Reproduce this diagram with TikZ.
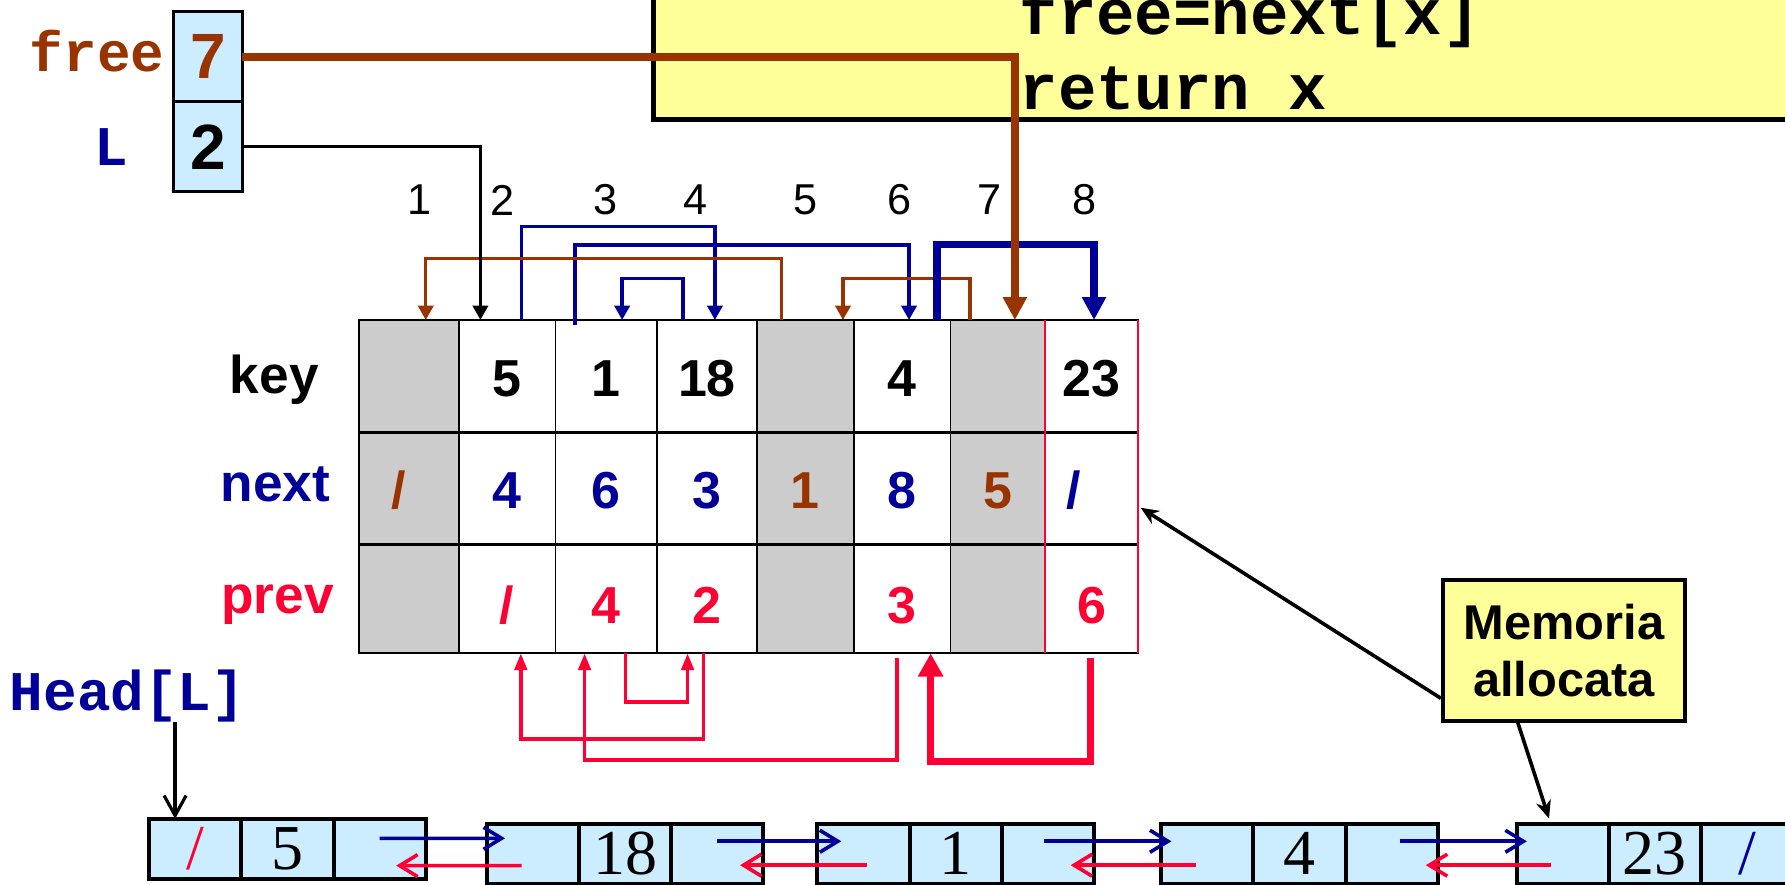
\documentclass[tikz,border=0pt]{standalone}
\usepackage{fontspec}
\setmainfont{Liberation Sans}
\setmonofont{Liberation Mono}
\newfontfamily\listfont{Liberation Serif}
\usetikzlibrary{arrows.meta,positioning}
\definecolor{freebrown}{HTML}{993300}
\definecolor{nextblue}{HTML}{000099}
\definecolor{prevred}{HTML}{FF0033}
\definecolor{memblue}{HTML}{CCECFF}
\definecolor{noteyellow}{HTML}{FFFF99}
\definecolor{unusedgrey}{HTML}{CCCCCC}

\begin{document}
\begin{tikzpicture}[
  cell/.style={draw, line width=0.4pt, fill=white, inner sep=0pt, outer sep=0pt,
    font=\bfseries\fontsize{13}{15}\selectfont, text height=10.1pt, text depth=0pt},
  keyrow/.style={cell, minimum height=0.987cm},
  nextrow/.style={cell, minimum height=0.984cm},
  prevrow/.style={cell, minimum height=0.957cm, text height=12.2pt},
  unused/.style={fill=unusedgrey},
  rowlbl/.style={anchor=base, inner sep=0pt, font=\bfseries\fontsize{13.3}{15}\selectfont},
  idx/.style={inner sep=0pt, font=\fontsize{10.8}{12}\selectfont},
  ttlbl/.style={inner sep=0pt, font=\ttfamily\bfseries\fontsize{14}{16}\selectfont},
  code/.style={anchor=base west, inner sep=0pt, font=\ttfamily\bfseries\fontsize{16}{18}\selectfont},
  membox/.style={draw, line width=0.7pt, fill=memblue, minimum width=0.607cm, minimum height=0.791cm,
    inner sep=0pt, outer sep=0pt, font=\bfseries\fontsize{16}{18}\selectfont},
  lcell/.style={draw, line width=1pt, fill=memblue, minimum width=0.81cm, minimum height=0.53cm,
    inner sep=0pt, outer sep=0pt, font=\listfont\fontsize{16}{18}\selectfont},
  note/.style={draw, line width=0.9pt, fill=noteyellow, minimum width=2.13cm, minimum height=1.238cm,
    align=center, font=\bfseries\fontsize{12.2}{14.2}\selectfont},
  nextptr/.style={draw=nextblue, line width=0.85pt, -{Triangle[width=3.8pt,length=3.6pt]}},
  nextbig/.style={draw=nextblue, line width=1.8pt, -{Triangle[width=5.7pt,length=5.7pt]}},
  freeptr/.style={draw=freebrown, line width=0.85pt, -{Triangle[width=3.8pt,length=3.6pt]}},
  freebig/.style={draw=freebrown, line width=2pt, -{Triangle[width=5.7pt,length=5.7pt]}},
  prevptr/.style={draw=prevred, line width=0.9pt, -{Triangle[width=3.1pt,length=4.2pt]}},
  prevbig/.style={draw=prevred, line width=1.8pt, -{Triangle[width=6pt,length=5.8pt]}},
  headptr/.style={draw, line width=0.8pt, -{Triangle[width=3.8pt,length=3.6pt]}},
  nextlink/.style={draw=nextblue, line width=0.9pt, -{Straight Barb[length=4.5pt,width=5.5pt]}},
  prevlink/.style={draw=prevred, line width=0.9pt, -{Straight Barb[length=4.5pt,width=5.5pt]}},
  headlink/.style={draw, line width=0.8pt, -{Straight Barb[length=5pt,width=5.5pt]}},
  notelink/.style={draw, line width=0.9pt, -{Stealth[length=4.5pt,width=3.8pt]}}
]
\useasboundingbox (0,0) rectangle (15.68,-7.77);
\draw[line width=1.3pt, fill=noteyellow] (5.74,0.4) rectangle (16.2,-1.05);
\node[code] (code1) at (8.95,-0.30) {free=next[x]};
\node[code] (code2) at (8.95,-0.96) {return x};

\node[membox, text=freebrown] (freebox) at (1.826,-0.4975) {7};
\node[membox, below=0pt of freebox] (Lbox) {2};
\node[ttlbl, anchor=base east, text=freebrown] (freelbl) at (1.45,-0.63) {free};
\node[ttlbl, anchor=base, text=nextblue] (Llbl) at (0.98,-1.45) {L};

\node[idx] (i1) at (3.688,-1.757) {1};
\node[idx] (i2) at (4.414,-1.757) {2};
\node[idx] (i3) at (5.322,-1.757) {3};
\node[idx] (i4) at (6.108,-1.757) {4};
\node[idx] (i5) at (7.076,-1.757) {5};
\node[idx] (i6) at (7.903,-1.757) {6};
\node[idx] (i7) at (8.690,-1.757) {7};
\node[idx] (i8) at (9.524,-1.757) {8};

\node[rowlbl] (keylbl) at (2.41,-3.455) {key};
\node[rowlbl, text=nextblue] (nextlbl) at (2.42,-4.407) {next};
\node[rowlbl, text=prevred] (prevlbl) at (2.437,-5.388) {prev};

\node[keyrow, unused, minimum width=0.88cm] (k1) at (3.59,-3.3045) {};
\node[keyrow, minimum width=0.85cm] (k2) at (4.455,-3.3045) {5};
\node[keyrow, minimum width=0.89cm] (k3) at (5.325,-3.3045) {1};
\node[keyrow, minimum width=0.88cm] (k4) at (6.21,-3.3045) {18};
\node[keyrow, unused, minimum width=0.85cm] (k5) at (7.075,-3.3045) {};
\node[keyrow, minimum width=0.85cm] (k6) at (7.925,-3.3045) {4};
\node[keyrow, unused, minimum width=0.83cm] (k7) at (8.765,-3.3045) {};
\node[keyrow, minimum width=0.82cm] (k8) at (9.59,-3.3045) {23};

\node[nextrow, unused, minimum width=0.88cm, text=freebrown] (n1) at (3.59,-4.290) {/\hspace*{1.8mm}};
\node[nextrow, minimum width=0.85cm, text=nextblue] (n2) at (4.455,-4.290) {4};
\node[nextrow, minimum width=0.89cm, text=nextblue] (n3) at (5.325,-4.290) {6};
\node[nextrow, minimum width=0.88cm, text=nextblue] (n4) at (6.21,-4.290) {3};
\node[nextrow, unused, minimum width=0.85cm, text=freebrown] (n5) at (7.075,-4.290) {1};
\node[nextrow, minimum width=0.85cm, text=nextblue] (n6) at (7.925,-4.290) {8};
\node[nextrow, unused, minimum width=0.83cm, text=freebrown] (n7) at (8.765,-4.290) {5};
\node[nextrow, minimum width=0.82cm, text=nextblue] (n8) at (9.59,-4.290) {/\hspace*{3.2mm}};

\node[prevrow, unused, minimum width=0.88cm] (p1) at (3.59,-5.2605) {};
\node[prevrow, minimum width=0.85cm, text=prevred] (p2) at (4.455,-5.2605) {/};
\node[prevrow, minimum width=0.89cm, text=prevred] (p3) at (5.325,-5.2605) {4};
\node[prevrow, minimum width=0.88cm, text=prevred] (p4) at (6.21,-5.2605) {2};
\node[prevrow, unused, minimum width=0.85cm] (p5) at (7.075,-5.2605) {};
\node[prevrow, minimum width=0.85cm, text=prevred] (p6) at (7.925,-5.2605) {3};
\node[prevrow, unused, minimum width=0.83cm] (p7) at (8.765,-5.2605) {};
\node[prevrow, minimum width=0.82cm, text=prevred] (p8) at (9.59,-5.2605) {6};

\draw[line width=0.7pt] (k1.south west) -- (k8.south east);
\draw[line width=0.7pt] (n1.south west) -- (n8.south east);
\draw[line width=0.5pt] (k1.north west) -- (k8.north east);
\draw[line width=0.5pt] (p1.south west) -- (p8.south east);
\draw[line width=0.5pt] (k1.north west) -- (p1.south west);
\draw[prevred, line width=0.4pt] (k8.north west) -- (p8.south west);
\draw[prevred, line width=0.5pt] (k8.north east) -- (p8.south east);

\draw[nextptr] ([xshift=1.25mm]k2.north) -- ++(0,0.82) -| ([xshift=0.7mm]k4.north);
\draw[nextptr] ([xshift=-2.75mm,yshift=-0.4mm]k3.north) -- ++(0,0.70) -| ([xshift=0.6mm]k6.north);
\draw[freeptr] ([xshift=-2.1mm]k5.north) -- ++(0,0.54) -| ([xshift=1.5mm]k1.north);
\draw[nextptr] ([xshift=-2.1mm]k4.north) -- ++(0,0.365) -| ([xshift=1.4mm]k3.north);
\draw[freeptr] ([xshift=-2.45mm]k7.north) -- ++(0,0.365) -| ([xshift=3.3mm]k5.north);
\draw[nextbig] ([xshift=3.05mm]k6.north) -- ++(0,0.66) -| ([xshift=0.2mm]k8.north);
\draw[headptr] (Lbox.east) -| ([xshift=-2.35mm]k2.north);
\draw[freebig] (freebox.east) -| ([xshift=1.5mm]k7.north);

\draw[prevptr] ([xshift=-0.3mm]p4.south) -- ++(0,-0.755) -| ([xshift=1.2mm]p2.south);
\draw[prevptr] ([xshift=1.7mm]p3.south) -- ++(0,-0.43) -| ([xshift=-1.7mm]p4.south);
\draw[prevptr] ([xshift=-0.45mm,yshift=-0.4mm]p6.south) -- ++(0,-0.896) -| ([xshift=-1.9mm]p3.south);
\draw[prevbig] ([xshift=-0.1mm,yshift=-0.4mm]p8.south) -- ++(0,-0.91) -| ([xshift=2.5mm]p6.south);

\node[ttlbl, anchor=base west, text=nextblue] (headlbl) at (0.08,-6.237) {Head[L]};

\node[lcell, text=prevred] (a1) at (1.715,-7.458) {/};
\node[lcell, right=0pt of a1] (a2) {5};
\node[lcell, right=0pt of a2] (a3) {};
\node[lcell] (b1) at (4.681,-7.50) {};
\node[lcell, right=0pt of b1] (b2) {18};
\node[lcell, right=0pt of b2] (b3) {};
\node[lcell] (c1) at (7.585,-7.50) {};
\node[lcell, right=0pt of c1] (c2) {1};
\node[lcell, right=0pt of c2] (c3) {};
\node[lcell] (d1) at (10.605,-7.50) {};
\node[lcell, right=0pt of d1] (d2) {4};
\node[lcell, right=0pt of d2] (d3) {};
\node[lcell] (e1) at (13.727,-7.50) {};
\node[lcell, right=0pt of e1] (e2) {23};
\node[lcell, right=0pt of e2, text=nextblue] (e3) {/};

\coordinate (hd) at ([xshift=-1.77mm]a1.north);
\draw[headlink] (hd |- headlbl.south) -- (hd);

\draw[nextlink] ([yshift=0.94mm]a3.center) -- ([xshift=1.6mm,yshift=1.36mm]b1.west);
\draw[prevlink] ([xshift=-1.0mm,yshift=-1.04mm]b1.center) -- ([xshift=1.45mm,yshift=-1.46mm]a3.center);
\draw[nextlink] ([yshift=1.1mm]b3.center) -- ([xshift=2.1mm,yshift=1.1mm]c1.west);
\draw[prevlink] ([xshift=0.3mm,yshift=-1.0mm]c1.center) -- ([xshift=2.0mm,yshift=-1.0mm]b3.center);
\draw[nextlink] ([xshift=-0.3mm,yshift=1.1mm]c3.center) -- ([xshift=0.9mm,yshift=1.1mm]d1.west);
\draw[prevlink] ([xshift=-1.0mm,yshift=-1.0mm]d1.center) -- ([xshift=2.0mm,yshift=-1.0mm]c3.center);
\draw[nextlink] ([xshift=0.7mm,yshift=1.1mm]d3.center) -- ([xshift=0.9mm,yshift=1.1mm]e1.west);
\draw[prevlink] ([xshift=-1.0mm,yshift=-1.0mm]e1.center) -- ([xshift=3.0mm,yshift=-1.0mm]d3.center);

\node[note] (memo) at (13.738,-5.714) {Memoria\\allocata};
\draw[notelink] ([yshift=-4.2mm]memo.west) -- ([xshift=0.2mm,yshift=-1.7mm]n8.east);
\draw[notelink] ([xshift=-4.05mm]memo.south) -- ([xshift=-1.2mm,yshift=0.45mm]e1.north);
\end{tikzpicture}
\end{document}
